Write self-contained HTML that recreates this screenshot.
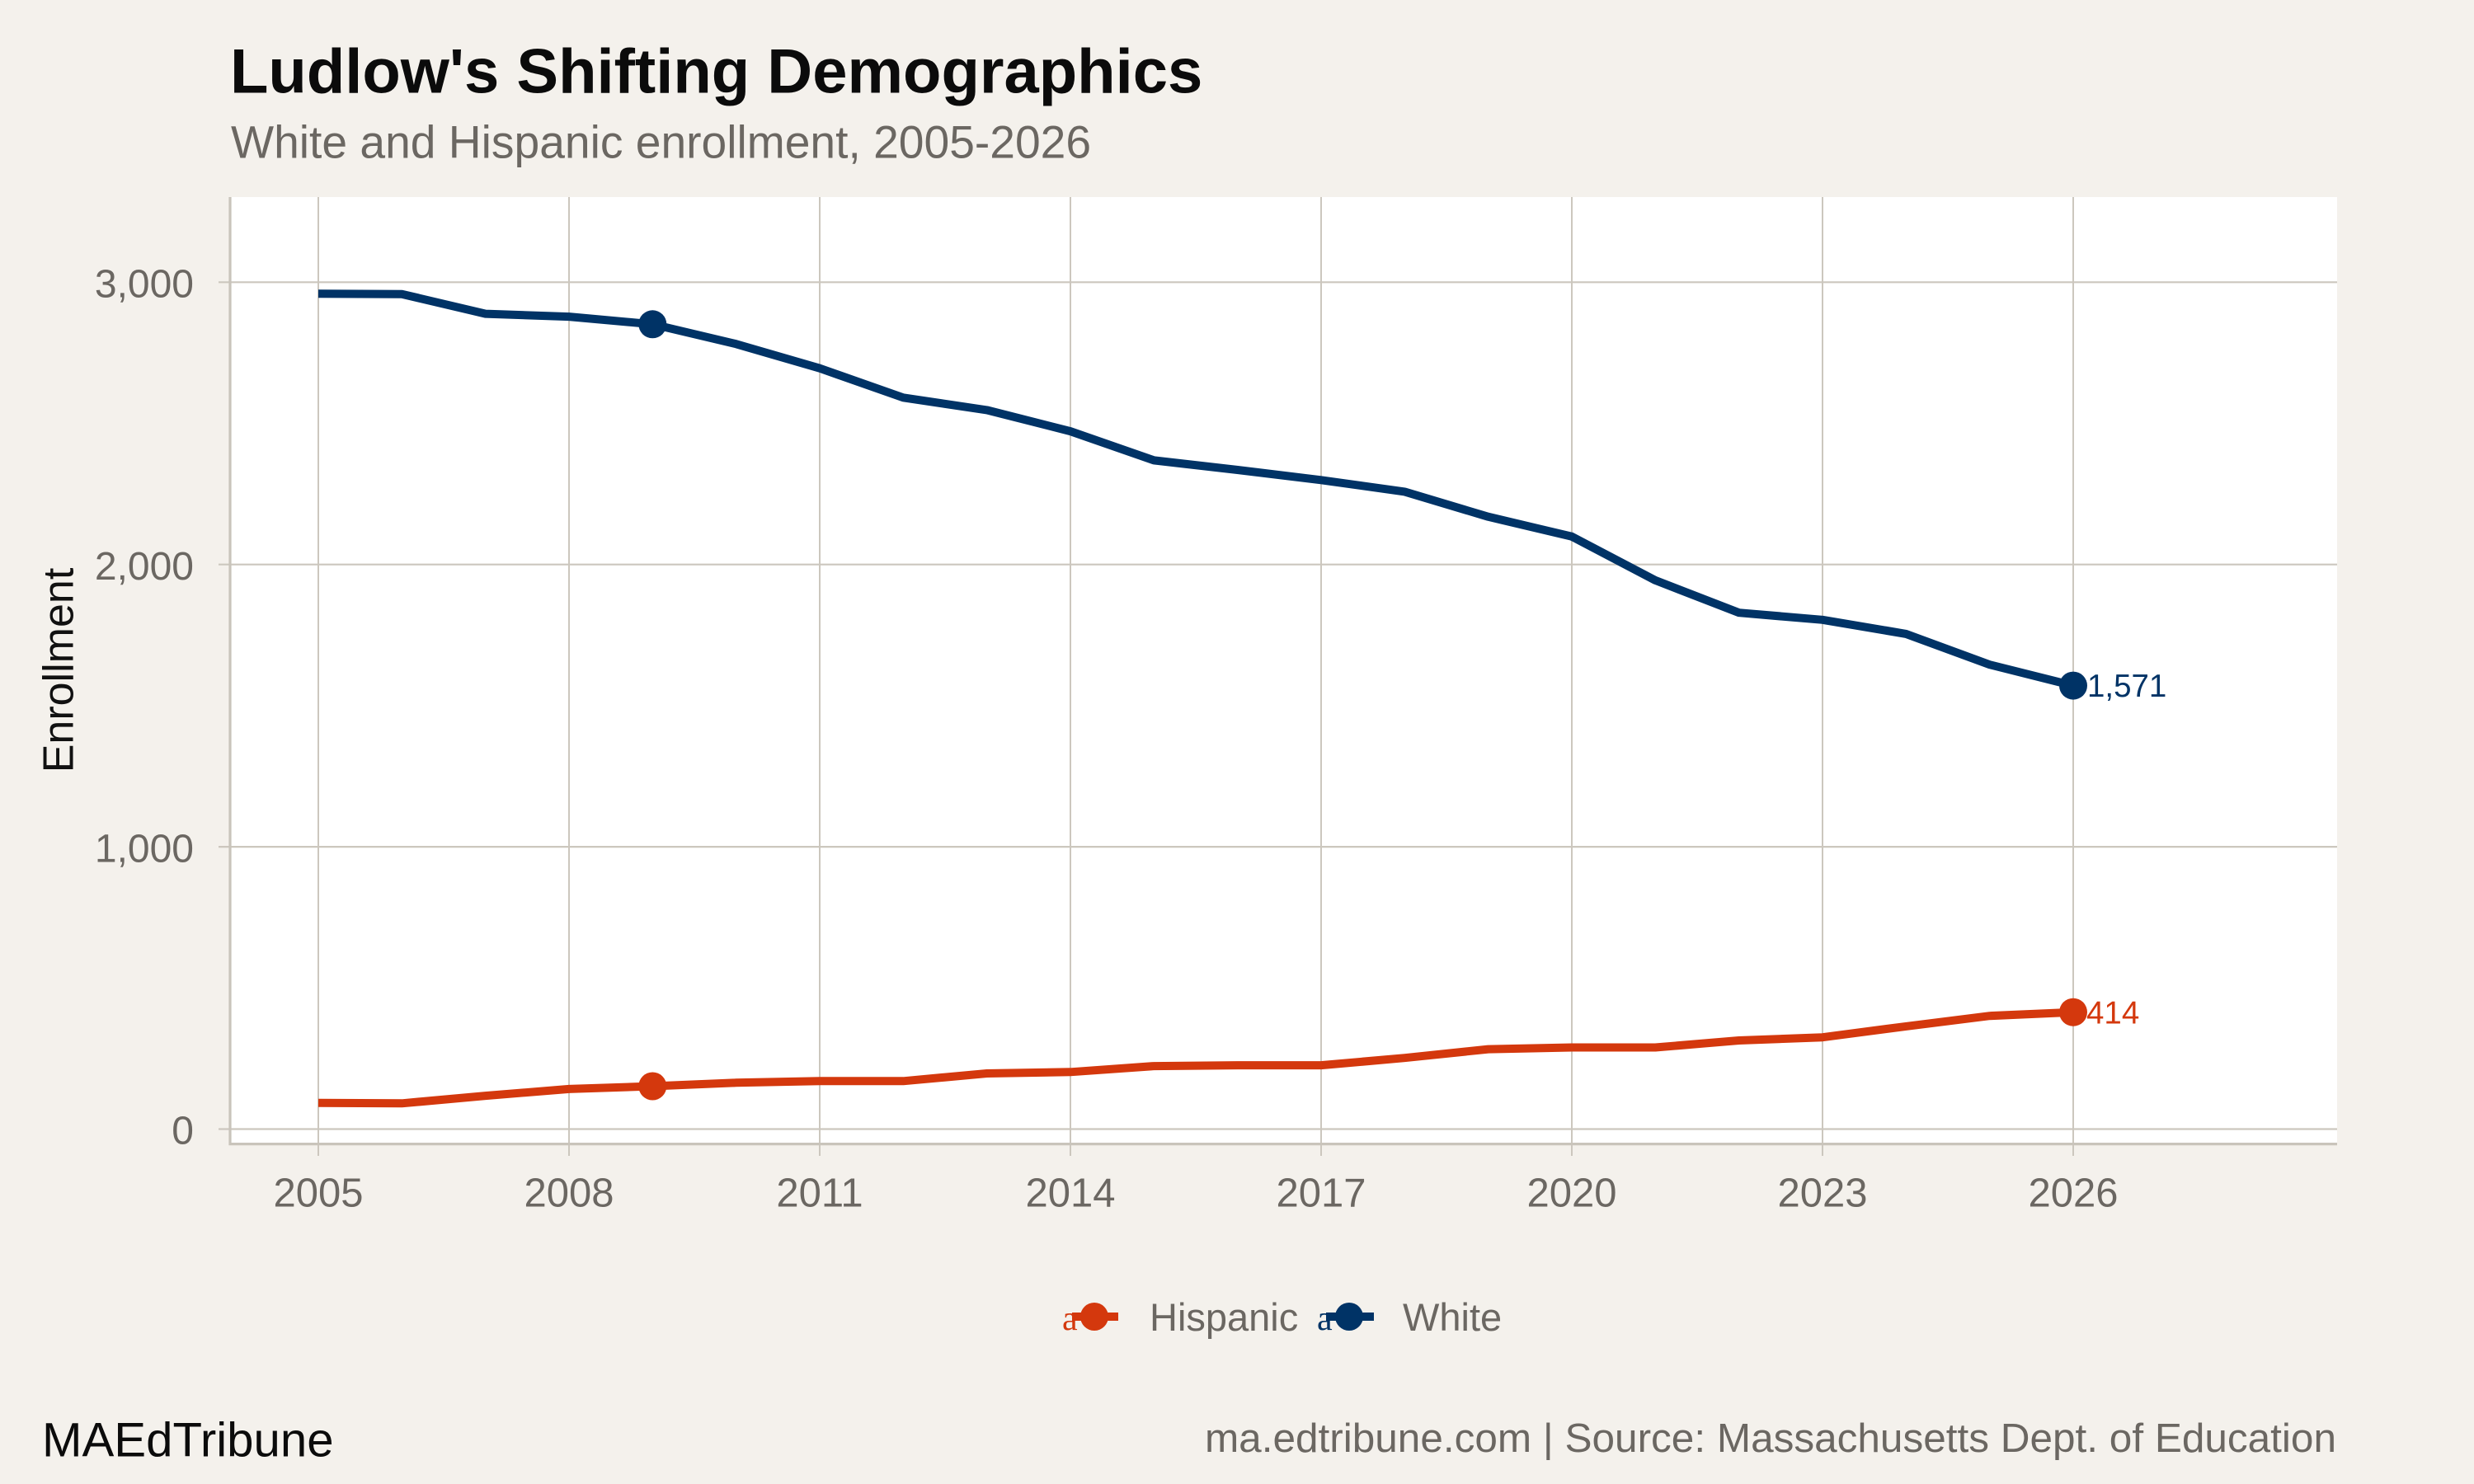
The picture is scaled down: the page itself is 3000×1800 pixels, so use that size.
<!DOCTYPE html>
<html>
<head>
<meta charset="utf-8">
<style>
  html, body { margin: 0; padding: 0; background: #F4F1EC; }
  body { width: 3000px; height: 1800px; overflow: hidden; }
  svg { display: block; }
  text { font-family: "Liberation Sans", Arial, sans-serif; }
</style>
</head>
<body>
<svg width="3000" height="1800" viewBox="0 0 3000 1800" xmlns="http://www.w3.org/2000/svg">
  <rect x="0" y="0" width="3000" height="1800" fill="#F4F1EC"/>

  <!-- Title & subtitle -->
  <text x="279" y="112.5" font-size="76" font-weight="bold" fill="#0B0B0B">Ludlow's Shifting Demographics</text>
  <text x="280" y="191.5" font-size="55.2" fill="#6B6762">White and Hispanic enrollment, 2005-2026</text>

  <!-- Panel -->
  <rect x="279" y="239" width="2555" height="1148" fill="#FFFFFF"/>

  <!-- Horizontal gridlines (with left ticks) -->
  <g stroke="#CCC7BE" stroke-width="2.2" fill="none">
    <line x1="265" y1="342.3" x2="2834" y2="342.3"/>
    <line x1="265" y1="684.7" x2="2834" y2="684.7"/>
    <line x1="265" y1="1027.1" x2="2834" y2="1027.1"/>
    <line x1="265" y1="1369.5" x2="2834" y2="1369.5"/>
  </g>
  <!-- Vertical gridlines (with bottom ticks) -->
  <g stroke="#CCC7BE" stroke-width="2" fill="none">
    <line x1="386" y1="239" x2="386" y2="1402"/>
    <line x1="690" y1="239" x2="690" y2="1402"/>
    <line x1="994" y1="239" x2="994" y2="1402"/>
    <line x1="1298" y1="239" x2="1298" y2="1402"/>
    <line x1="1602" y1="239" x2="1602" y2="1402"/>
    <line x1="1906" y1="239" x2="1906" y2="1402"/>
    <line x1="2210" y1="239" x2="2210" y2="1402"/>
    <line x1="2514" y1="239" x2="2514" y2="1402"/>
  </g>
  <!-- Axis lines -->
  <line x1="279" y1="239" x2="279" y2="1389" stroke="#C9C4BB" stroke-width="3.2"/>
  <line x1="277.5" y1="1387.6" x2="2834" y2="1387.6" stroke="#C9C4BB" stroke-width="3.2"/>

  <!-- Y tick labels -->
  <g font-size="48" fill="#6B6762" text-anchor="end">
    <text x="235" y="360.5">3,000</text>
    <text x="235" y="702.9">2,000</text>
    <text x="235" y="1045.3">1,000</text>
    <text x="235" y="1387.7">0</text>
  </g>

  <!-- X tick labels -->
  <g font-size="49" fill="#6B6762" text-anchor="middle">
    <text x="386" y="1463.3">2005</text>
    <text x="690" y="1463.3">2008</text>
    <text x="994" y="1463.3">2011</text>
    <text x="1298" y="1463.3">2014</text>
    <text x="1602" y="1463.3">2017</text>
    <text x="1906" y="1463.3">2020</text>
    <text x="2210" y="1463.3">2023</text>
    <text x="2514" y="1463.3">2026</text>
  </g>

  <!-- Y axis title -->
  <text x="0" y="0" font-size="52" fill="#111111" text-anchor="middle" transform="translate(88.5,813) rotate(-90)">Enrollment</text>

  <!-- White series -->
  <polyline fill="none" stroke="#003366" stroke-width="10" stroke-linejoin="round" stroke-linecap="butt"
    points="386,356.3 487.3,356.7 588.7,380.6 690,384.1 791.3,393.3 892.7,417.3 994,446.7 1095.3,482.3 1196.7,497.4 1298,523.1 1399.3,558.4 1500.7,570.0 1602,582.3 1703.3,596.4 1804.7,626.8 1906,650.8 2007.3,703.9 2108.7,743.2 2210,751.8 2311.3,768.9 2412.7,806.2 2514,831.6"/>
  <!-- Hispanic series -->
  <polyline fill="none" stroke="#D4380D" stroke-width="10" stroke-linejoin="round" stroke-linecap="butt"
    points="386,1337.7 487.3,1338.3 588.7,1329.1 690,1320.9 791.3,1317.5 892.7,1313.3 994,1311.3 1095.3,1311.3 1196.7,1302.0 1298,1300.3 1399.3,1293.1 1500.7,1292.1 1602,1292.1 1703.3,1283.2 1804.7,1272.6 1906,1270.5 2007.3,1270.5 2108.7,1262.0 2210,1258.2 2311.3,1244.9 2412.7,1232.2 2514,1227.7"/>

  <!-- Markers -->
  <circle cx="791.3" cy="393.3" r="17" fill="#003366"/>
  <circle cx="2514" cy="831.6" r="17" fill="#003366"/>
  <circle cx="791.3" cy="1317.5" r="17" fill="#D4380D"/>
  <circle cx="2514" cy="1227.7" r="17" fill="#D4380D"/>

  <!-- End labels -->
  <text x="2531" y="845" font-size="38.5" fill="#003366">1,571</text>
  <text x="2530" y="1241.5" font-size="38.5" fill="#D4380D">414</text>

  <!-- Legend -->
  <line x1="1300" y1="1597" x2="1356" y2="1597" stroke="#D4380D" stroke-width="10"/>
  <text x="1288" y="1613" font-size="42" fill="#D4380D" style="font-family:'Liberation Serif',serif">a</text>
  <circle cx="1327" cy="1597" r="17" fill="#D4380D"/>
  <text x="1394" y="1614" font-size="47" fill="#6B6762">Hispanic</text>

  <line x1="1608" y1="1597" x2="1666" y2="1597" stroke="#003366" stroke-width="10"/>
  <text x="1597" y="1613" font-size="42" fill="#003366" style="font-family:'Liberation Serif',serif">a</text>
  <circle cx="1636" cy="1597" r="17" fill="#003366"/>
  <text x="1701" y="1614" font-size="47" fill="#6B6762">White</text>

  <!-- Footer -->
  <text x="51" y="1766.5" font-size="58.2" fill="#0B0B0B">MAEdTribune</text>
  <text x="2833" y="1761" font-size="49.5" fill="#6B6762" text-anchor="end">ma.edtribune.com | Source: Massachusetts Dept. of Education</text>
</svg>
</body>
</html>
